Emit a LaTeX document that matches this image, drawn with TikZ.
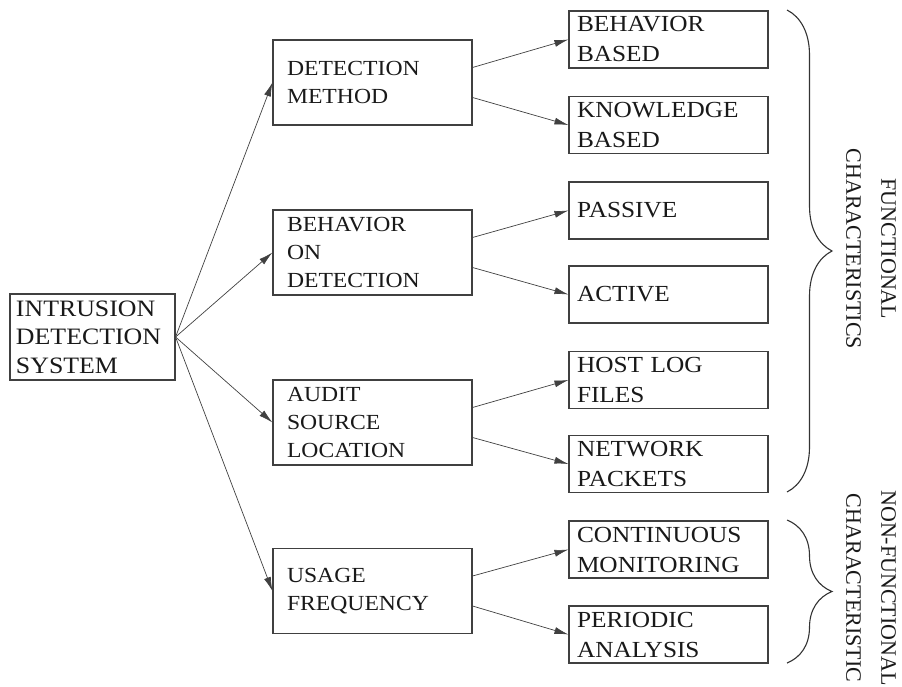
\documentclass[tikz,border=0pt]{standalone}
\usepackage{fontspec}
\setmainfont{Liberation Serif}[FakeStretch=1.1]
\newfontfamily\sidefont{Liberation Serif}
\usetikzlibrary{arrows.meta,decorations.pathreplacing}

\tikzset{
  box/.style={draw=black!75, line width=1.1pt, text=black!90, align=left,
    inner ysep=1pt},
  topbox/.style={box, inner xsep=6pt, text width=153pt, minimum width=165,
    minimum height=86, font=\fontsize{23.5}{28.5}\selectfont},
  midbox/.style={box, inner xsep=14pt, text width=171pt, minimum width=199,
    minimum height=85, font=\fontsize{21.5}{28}\selectfont},
  leafbox/.style={box, inner xsep=8pt, text width=183pt, minimum width=199,
    minimum height=57, font=\fontsize{23}{30}\selectfont},
  arr/.style={draw=black!75, line width=0.7pt, -{Latex[length=14pt,width=7pt]}},
  bracestyle/.style={draw=black!80, line width=1.1pt, decorate,
    decoration={brace, amplitude=45pt}},
  sidelabel/.style={rotate=-90, align=center, text=black!90,
    font=\sidefont\fontsize{22}{35}\selectfont}
}

\begin{document}
\begin{tikzpicture}[x=1pt, y=-1pt]
  \useasboundingbox (0,0) rectangle (902,687);

  % root
  \node[topbox] (ids) at (92.5,337) {INTRUSION\\DETECTION\\SYSTEM};

  % middle column
  \node[midbox] (method) at (372.5,82.5) {DETECTION\\METHOD};
  \node[midbox] (react) at (372.5,252.5) {BEHAVIOR\\ON\\DETECTION};
  \node[midbox] (audit) at (372.5,422.5) {AUDIT\\SOURCE\\LOCATION};
  \node[midbox] (usage) at (372.5,591) {USAGE\\FREQUENCY};

  % right column
  \node[leafbox] (behav) at (668.5,39.5) {BEHAVIOR\\BASED};
  \node[leafbox] (know) at (668.5,125) {KNOWLEDGE\\BASED};
  \node[leafbox] (passive) at (668.5,210.5) {PASSIVE};
  \node[leafbox] (active) at (668.5,294.5) {ACTIVE};
  \node[leafbox] (host) at (668.5,380) {HOST LOG\\FILES};
  \node[leafbox] (network) at (668.5,464) {NETWORK\\PACKETS};
  \node[leafbox] (cont) at (668.5,549.5) {CONTINUOUS\\MONITORING};
  \node[leafbox] (periodic) at (668.5,634.5) {PERIODIC\\ANALYSIS};

  \draw[arr] (ids.east) -- (method.west);
  \draw[arr] (ids.east) -- (react.west);
  \draw[arr] (ids.east) -- (audit.west);
  \draw[arr] (ids.east) -- (usage.west);

  \draw[arr] ([yshift=15pt]method.east) -- (behav.west);
  \draw[arr] ([yshift=-15pt]method.east) -- (know.west);
  \draw[arr] ([yshift=15pt]react.east) -- (passive.west);
  \draw[arr] ([yshift=-15pt]react.east) -- (active.west);
  \draw[arr] ([yshift=15pt]audit.east) -- (host.west);
  \draw[arr] ([yshift=-15pt]audit.east) -- (network.west);
  \draw[arr] ([yshift=15pt]usage.east) -- (cont.west);
  \draw[arr] ([yshift=-15pt]usage.east) -- (periodic.west);

  % braces
  \draw[bracestyle] (787,10) -- (787,492);
  \draw[bracestyle] (787,520) -- (787,663);
  \node[sidelabel] (func) at (871,249) {FUNCTIONAL\\CHARACTERISTICS};
  \node[sidelabel] (nonfunc) at (871,588) {NON-FUNCTIONAL\\CHARACTERISTIC};
\end{tikzpicture}
\end{document}
